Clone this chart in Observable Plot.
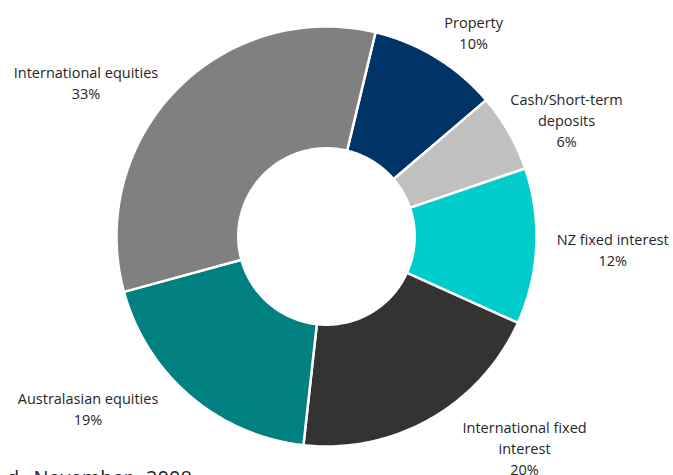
<!DOCTYPE html>
<html>
<head>
<meta charset="utf-8">
<script src="https://cdn.jsdelivr.net/npm/d3@7"></script>
<script src="https://cdn.jsdelivr.net/npm/@observablehq/plot@0.6"></script>
<style>
  html, body { margin: 0; padding: 0; background: #fff; overflow: hidden; }
  #wrap { position: relative; width: 673px; height: 475px; overflow: hidden; }
  #caption { position: absolute; left: 7px; top: 468px; font-family: "Open Sans", sans-serif; font-size: 20px; line-height: 1; color: #222; white-space: nowrap; word-spacing: 9px; }
</style>
</head>
<body>
<div id="wrap">
  <div id="chart"></div>
  <div id="caption">d November 2008</div>
</div>
<script>
const categories = ["Property", "Cash/Short-term deposits", "NZ fixed interest", "International fixed interest", "Australasian equities", "International equities"];
const values = [10, 6, 12, 20, 19, 33];
const labelLines = ["Property", "Cash/Short-term\ndeposits", "NZ fixed interest", "International fixed\ninterest", "Australasian equities", "International equities"];
const colors = ["#003366", "#C0C0C0", "#00CCCC", "#333333", "#008080", "#808080"];

// layout / style
const startDeg = 13.5;
const innerR = 0.42;
const labelR = 1.25;
const nudges = [[10, 19], [12, 13], [24, 0], [68, -17], [-68, -28], [-52, 28]];

const total = d3.sum(values);
const toRad = Math.PI / 180;
let acc = startDeg * toRad;
const slices = values.map((v, i) => {
  const a0 = acc;
  const a1 = acc + (v / total) * 2 * Math.PI;
  acc = a1;
  return {cat: categories[i], value: v, a0, a1, mid: (a0 + a1) / 2, label: labelLines[i] + "\n" + v + "%"};
});

const ringPts = [];
for (const s of slices) {
  const n = 80;
  for (let k = 0; k <= n; k++) {
    const a = s.a0 + (s.a1 - s.a0) * k / n;
    ringPts.push({cat: s.cat, x: Math.sin(a), y: Math.cos(a)});
  }
  for (let k = n; k >= 0; k--) {
    const a = s.a0 + (s.a1 - s.a0) * k / n;
    ringPts.push({cat: s.cat, x: innerR * Math.sin(a), y: innerR * Math.cos(a)});
  }
}

const textMarks = slices.map((s, i) => Plot.text([s], {
  x: d => labelR * Math.sin(d.mid),
  y: d => labelR * Math.cos(d.mid),
  text: "label",
  dx: nudges[i][0],
  dy: nudges[i][1],
  textAnchor: "middle",
  lineAnchor: "middle",
  lineHeight: 1.45,
  fontSize: 14.5,
  fill: "#262626"
}));

const chart = Plot.plot({
  width: 673,
  height: 475,
  margin: 0,
  style: {fontFamily: "'Open Sans', sans-serif", background: "#fff"},
  x: {domain: [-1, 1], range: [116, 536], axis: null},
  y: {domain: [-1, 1], range: [446, 26], axis: null},
  color: {domain: categories, range: colors},
  marks: [
    Plot.line(ringPts, {x: "x", y: "y", z: "cat", fill: "cat", stroke: "#fff", strokeWidth: 2.5, curve: "linear-closed"}),
    ...textMarks
  ]
});
document.getElementById("chart").appendChild(chart);
</script>
</body>
</html>
